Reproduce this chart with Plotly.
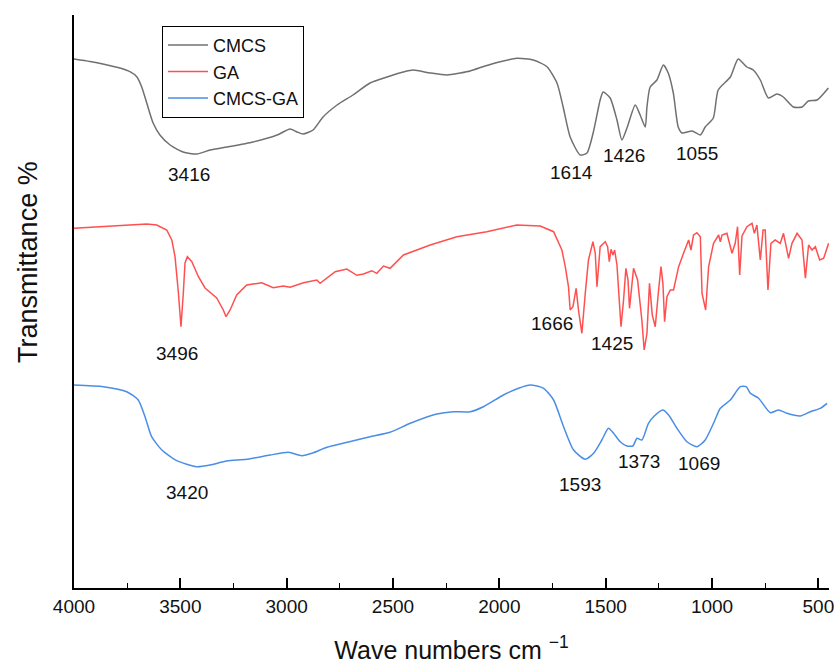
import plotly.graph_objects as go

# ---------------- data ----------------
# CMCS
cmcs_wn = [4000, 3925, 3854, 3784, 3737, 3705, 3682, 3658, 3628, 3596, 3548, 3487, 3423, 3360, 3280,
           3158, 3045, 2984, 2951, 2923, 2876, 2829, 2763, 2688, 2608, 2528, 2452, 2405, 2325, 2245,
           2184, 2137, 2067, 1996, 1918, 1841, 1776, 1729, 1700, 1667, 1620, 1588, 1559, 1526, 1512,
           1479, 1447, 1424, 1400, 1361, 1338, 1314, 1306, 1291, 1259, 1229, 1206, 1182, 1159, 1141,
           1094, 1055, 1032, 994, 971, 914, 877, 836, 806, 773, 735, 695, 665, 618, 577, 547, 506, 453]
cmcs_t = [529, 526.5, 523.5, 520, 516.3, 511.3, 501.3, 485, 465, 453, 443, 436, 434, 438, 441,
          446, 453, 459, 456, 454, 458, 471, 483, 493, 505, 511, 516, 518, 515, 513,
          515, 517, 522, 526.3, 529.7, 528, 521.3, 505, 481, 451, 433, 435, 455, 488, 496,
          490, 468, 448, 460, 483, 473, 461, 481, 501, 508, 523, 515, 495, 461, 455,
          457, 453, 461, 470, 498, 511, 529, 521, 518, 508, 490, 494, 491, 481, 481, 487, 488, 500]

# GA
ga_wn = [4000, 3864, 3658, 3611, 3564, 3540, 3525, 3509, 3497, 3486, 3478, 3467, 3446, 3415, 3384,
         3329, 3298, 3285, 3266, 3235, 3188, 3117, 3063, 3016, 2984, 2921, 2858, 2843, 2772, 2717,
         2670, 2639, 2600, 2576, 2545, 2514, 2451, 2325, 2200, 2059, 1918, 1808, 1745, 1706, 1690,
         1675, 1667, 1654, 1639, 1628, 1612, 1596, 1581, 1560, 1549, 1541, 1526, 1502, 1491, 1483,
         1475, 1466, 1458, 1447, 1428, 1416, 1405, 1395, 1388, 1369, 1350, 1330, 1319, 1306, 1294,
         1281, 1267, 1252, 1240, 1231, 1223, 1212, 1196, 1181, 1157, 1134, 1110, 1099, 1087, 1071,
         1055, 1047, 1030, 1016, 993, 969, 961, 953, 930, 906, 891, 880, 870, 859, 836,
         812, 801, 789, 773, 760, 750, 737, 723, 703, 679, 664, 640, 624, 600, 577,
         561, 546, 530, 514, 494, 475, 452]
ga_t = [359.7, 361.3, 364, 363, 358, 348, 331.3, 295, 261.3, 295, 325, 331.3, 326.3, 311.3, 300,
        290, 278, 271.3, 278, 293, 303, 305.3, 300.3, 302, 300.7, 305.3, 308, 304.7, 316.3, 319,
        312.7, 314, 317.3, 314.7, 322, 319.7, 333, 343, 351.3, 356.3, 363, 362, 356.3, 338, 321.3,
        301.3, 278, 281.3, 299.7, 278, 254.7, 294.7, 328, 346.3, 334.7, 301.3, 341.3, 346.3, 341.3, 326.3,
        338.7, 333, 338, 323, 261.3, 288, 319.7, 308, 279.7, 319.7, 308, 268, 238, 254.7, 304.7,
        273, 261.3, 296.3, 321.3, 304.7, 266.3, 291.3, 298, 298, 321.3, 334.7, 348, 338, 353, 355.3,
        351.3, 294.7, 278, 321.3, 344.7, 353, 346.3, 353, 354.7, 334.7, 344.7, 361.3, 313, 352, 361.3,
        364.7, 354.7, 363, 328, 358, 358, 298, 344.7, 348, 344.7, 354.7, 329.7, 344.7, 354.7, 348,
        309.7, 343, 338, 341.3, 328, 329.7, 344.7]

# CMCS-GA
mix_wn = [4000, 3862, 3752, 3698, 3666, 3635, 3587, 3517, 3423, 3360, 3282, 3188, 3078, 2992, 2929,
          2874, 2811, 2686, 2608, 2514, 2419, 2294, 2216, 2137, 2075, 1981, 1910, 1855, 1792, 1745,
          1698, 1651, 1596, 1557, 1518, 1487, 1463, 1432, 1400, 1372, 1353, 1330, 1299, 1275, 1231,
          1204, 1165, 1118, 1071, 1032, 993, 961, 914, 867, 839, 820, 781, 726, 687, 648,
          585, 538, 491, 459]
mix_t = [203, 201.3, 196.3, 188, 171.3, 151.3, 138, 127.3, 121.3, 123, 127, 128.7, 133, 135.7, 132.3,
         135.3, 140.7, 147.3, 151.3, 155.7, 164.7, 174, 176.3, 176.3, 181.3, 193, 199.7, 203, 199.7, 188,
         161.3, 138, 128.7, 134.7, 148, 159.7, 154.7, 146.3, 142, 142, 149.7, 148, 164.7, 171.3, 178,
         173, 159.7, 146.3, 141.3, 148, 164.7, 179.7, 188, 201.3, 201.3, 194.7, 189.7, 175.3, 178, 174.7,
         172, 176.3, 179.7, 184.7]

series_names = ["CMCS", "GA", "CMCS-GA"]
x_tick_vals = [4000, 3500, 3000, 2500, 2000, 1500, 1000, 500]

# peak labels: (text, wavenumber position, transmittance position)
peak_labels = [
    ("3416", 3458, 414), ("1614", 1659, 415.3), ("1426", 1416, 433), ("1055", 1071, 434.7),
    ("3496", 3517, 234.7), ("1666", 1753, 264.7), ("1425", 1471, 244.7),
    ("3420", 3470, 95.3), ("1593", 1623, 104), ("1373", 1345, 126.3), ("1069", 1063, 124.7),
]

FONT = "Liberation Sans, Arial, sans-serif"
colors = ["#707070", "#ff5050", "#4a8ee6"]

fig = go.Figure()
for name, xs, ys, col, shape in [
    (series_names[0], cmcs_wn, cmcs_t, colors[0], "spline"),
    (series_names[1], ga_wn, ga_t, colors[1], "linear"),
    (series_names[2], mix_wn, mix_t, colors[2], "spline"),
]:
    fig.add_trace(go.Scatter(
        x=xs, y=ys, name=name, mode="lines",
        line=dict(color=col, width=1.5, shape=shape, smoothing=0.6 if shape == "spline" else None),
    ))

for txt, xv, yv in peak_labels:
    fig.add_annotation(x=xv, y=yv, xref="x", yref="y", text=txt, showarrow=False,
                       font=dict(family=FONT, size=19, color="#111111"))

# y-axis title (placed as rotated text, as in the reference)
fig.add_annotation(x=-0.061, y=0.569, xref="paper", yref="paper", text="Transmittance %",
                   textangle=-90, showarrow=False, xanchor="center", yanchor="middle",
                   font=dict(family=FONT, size=27, color="#111111"))

fig.update_layout(
    width=835, height=664,
    margin=dict(l=74, r=6, t=15, b=76),
    paper_bgcolor="white", plot_bgcolor="white",
    font=dict(family=FONT, size=18, color="#111111"),
    showlegend=True,
    legend=dict(x=0.1166, y=0.981, xanchor="left", yanchor="top",
                bordercolor="#000000", borderwidth=1, bgcolor="white",
                font=dict(family=FONT, size=18, color="#111111"),
                tracegroupgap=0, itemwidth=40),
    xaxis=dict(
        range=[4000, 450], tickvals=x_tick_vals, automargin=False,
        ticks="inside", ticklen=10, tickwidth=1.5, tickcolor="#000000",
        minor=dict(dtick=250, tick0=500, ticks="inside", ticklen=5, tickwidth=1.2, tickcolor="#000000"),
        showline=True, linecolor="#000000", linewidth=2,
        showgrid=False, zeroline=False,
        tickfont=dict(family=FONT, size=19, color="#111111"),
        title=dict(text="Wave numbers cm <sup>−1</sup>", font=dict(family=FONT, size=25, color="#111111"),
                   standoff=26),
    ),
    yaxis=dict(
        range=[0, 573], showticklabels=False, ticks="", automargin=False,
        showline=True, linecolor="#000000", linewidth=2,
        showgrid=False, zeroline=False,
    ),
)

fig.write_html("out.html", config={"displayModeBar": False},
               post_script="document.body.style.margin='0px';")
